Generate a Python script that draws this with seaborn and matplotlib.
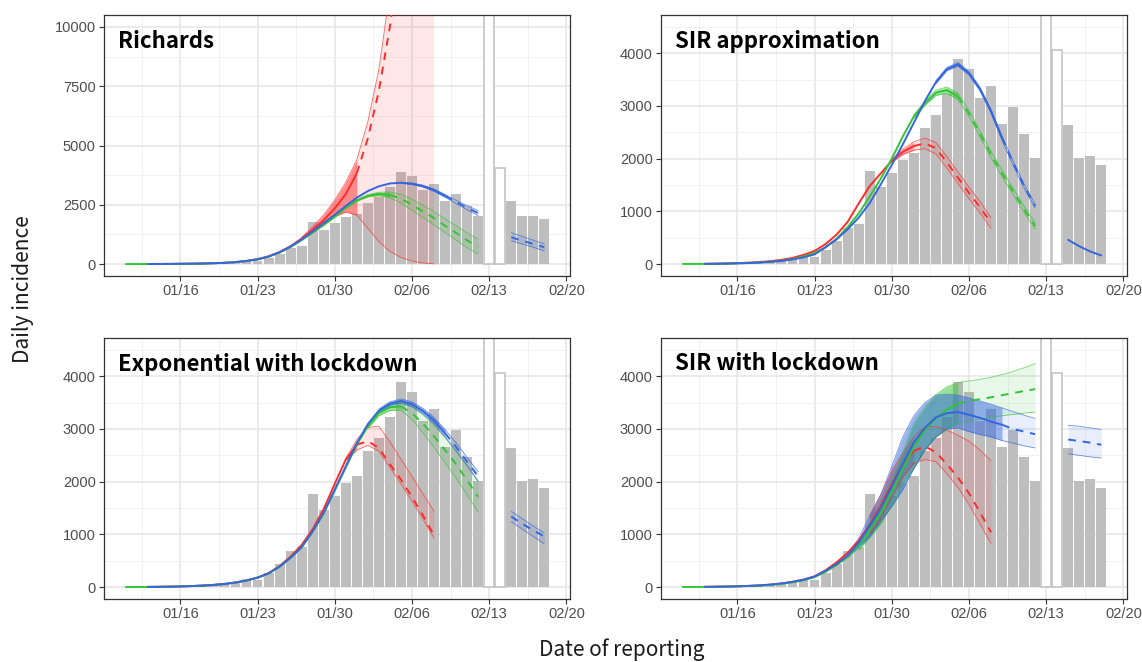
import numpy as np
import pandas as pd
import matplotlib
matplotlib.use("Agg")
import matplotlib.pyplot as plt
import seaborn as sns

# ------------------------------------------------------------------ data
ORIGIN = "2020-01-16"
bar_dates = pd.date_range("2020-01-17", "2020-02-18")
bar_values = [4, 17, 59, 77, 90, 149, 131, 259, 444, 688, 769,
              1771, 1459, 1737, 1981, 2099, 2589, 2825, 3235, 3884, 3694,
              3143, 3385, 2652, 2973, 2467, 2015, 14108, 4057,
              2641, 2009, 2048, 1886]
outline_dates = ["2020-02-13", "2020-02-14"]
tick_dates = ["2020-01-16", "2020-01-23", "2020-01-30", "2020-02-06",
              "2020-02-13", "2020-02-20"]
panel_titles = ["Richards", "SIR approximation",
                "Exponential with lockdown", "SIR with lockdown"]

red_start, green_start, blue_start, post_start = "2020-01-13", "2020-01-11", "2020-01-13", "2020-02-15"
red_fit_end, blue_fit_end = "2020-02-01", "2020-02-09"
green_fit_end = ["2020-02-04", "2020-02-05", "2020-02-05", "2020-02-05"]

# --- Richards
rich_r_mid = [5, 7, 10, 14, 19, 27, 38, 55, 85, 135, 210, 330, 510, 760, 1080, 1450, 1850, 2350,
              2950, 3830, 5300, 7300, 10000, 13500, 18000, 24000, 32000]
rich_r_rib = "2020-01-27"
rich_r_lo = [1030, 1330, 1650, 2000, 2200, 2070, 1500, 950, 540, 280, 130, 50, 10]
rich_r_hi = [1130, 1580, 2080, 2700, 3450, 4400, 6000, 8200, 11500, 16000, 22000, 30000, 40000]
rich_g_mid = [3, 4, 5, 7, 10, 14, 19, 27, 38, 55, 85, 132, 200, 315, 490, 720, 1010, 1330, 1650,
              1990, 2370, 2680, 2880, 2960, 2920, 2760, 2500, 2220, 1940, 1620, 1320, 1000, 740]
rich_g_rib = "2020-01-31"
rich_g_lo = [2350, 2650, 2835, 2890, 2800, 2570, 2270, 1960, 1660, 1330, 1020, 690, 420]
rich_g_hi = [2390, 2710, 2925, 3030, 3040, 2950, 2730, 2480, 2220, 1910, 1620, 1310, 1060]
rich_b_mid = [5, 7, 10, 14, 19, 27, 38, 55, 85, 132, 200, 320, 500, 740, 1040, 1380, 1730, 2080,
              2450, 2800, 3080, 3280, 3400, 3430, 3390, 3290, 3120, 2880, 2620, 2380, 2150]
rich_b_rib = "2020-02-05"
rich_b_lo = [3410, 3360, 3250, 3070, 2820, 2550, 2290, 2040]
rich_b_hi = [3450, 3420, 3330, 3170, 2940, 2690, 2470, 2260]
rich_post_mid = [1130, 990, 850, 710]
rich_post_lo = [980, 850, 710, 560]
rich_post_hi = [1330, 1170, 1010, 860]

# --- SIR approximation
sira_r_mid = [6, 9, 13, 19, 28, 40, 57, 82, 118, 175, 250, 380, 560, 800, 1150, 1480, 1720, 1960,
              2130, 2240, 2290, 2200, 1930, 1640, 1350, 1080, 780]
sira_r_rib = "2020-01-30"
sira_r_lo = [1930, 2080, 2160, 2190, 2090, 1820, 1530, 1240, 970, 680]
sira_r_hi = [1990, 2180, 2320, 2390, 2310, 2040, 1750, 1460, 1190, 880]
sira_g_mid = [3, 4, 5, 7, 10, 15, 22, 32, 46, 66, 95, 145, 210, 320, 480, 700, 960, 1280, 1620,
              2000, 2420, 2800, 3050, 3250, 3300, 3180, 2860, 2470, 2080, 1720, 1380, 1040, 720]
sira_g_rib = "2020-02-01"
sira_g_lo = [2770, 3010, 3200, 3240, 3120, 2800, 2410, 2020, 1660, 1320, 980, 660]
sira_g_hi = [2830, 3090, 3300, 3360, 3240, 2920, 2530, 2140, 1780, 1440, 1100, 780]
sira_b_mid = [5, 7, 10, 15, 21, 30, 43, 61, 88, 128, 185, 320, 470, 660, 880, 1160, 1510, 1880,
              2270, 2680, 3090, 3450, 3700, 3790, 3620, 3320, 2900, 2390, 1920, 1480, 1100]
sira_b_rib = "2020-02-03"
sira_b_lo = [3420, 3670, 3755, 3585, 3285, 2865, 2350, 1880, 1440, 1060]
sira_b_hi = [3480, 3730, 3825, 3655, 3355, 2935, 2430, 1960, 1520, 1140]
sira_post_mid = [460, 340, 240, 165]

# --- Exponential with lockdown
expl_r_mid = [4, 6, 9, 13, 20, 29, 42, 60, 88, 127, 182, 265, 400, 580, 800, 1100, 1480, 1960,
              2420, 2700, 2770, 2640, 2330, 2040, 1710, 1360, 980]
expl_r_rib = "2020-01-31"
expl_r_lo = [2400, 2600, 2690, 2580, 2270, 1960, 1630, 1290, 930]
expl_r_hi = [2440, 2800, 3030, 3050, 2760, 2430, 2100, 1770, 1440]
expl_g_mid = [2, 3, 4, 6, 9, 13, 20, 29, 42, 60, 88, 125, 178, 258, 385, 555, 755, 1050, 1400,
              1830, 2270, 2700, 3050, 3300, 3410, 3430, 3300, 3100, 2860, 2600, 2330, 2030, 1710]
expl_g_rib = "2020-02-02"
expl_g_lo = [3010, 3250, 3350, 3360, 3180, 2930, 2650, 2360, 2070, 1750, 1420]
expl_g_hi = [3090, 3350, 3470, 3500, 3420, 3270, 3070, 2840, 2590, 2310, 2000]
expl_b_mid = [4, 6, 9, 13, 20, 29, 42, 60, 88, 125, 180, 260, 390, 560, 760, 1060, 1410, 1850,
              2290, 2730, 3090, 3350, 3480, 3530, 3470, 3340, 3160, 2920, 2660, 2380, 2100]
expl_b_rib = "2020-02-03"
expl_b_lo = [3320, 3445, 3490, 3425, 3290, 3100, 2850, 2580, 2300, 2010]
expl_b_hi = [3380, 3515, 3570, 3515, 3390, 3220, 2990, 2740, 2460, 2190]
expl_post_mid = [1340, 1200, 1080, 960]
expl_post_lo = [1240, 1100, 960, 820]
expl_post_hi = [1440, 1300, 1160, 1030]

# --- SIR with lockdown
sirl_r_mid = [5, 8, 11, 16, 23, 33, 48, 70, 100, 142, 205, 320, 470, 650, 880, 1180, 1540, 1950,
              2330, 2580, 2670, 2560, 2330, 2080, 1780, 1420, 1040]
sirl_r_rib = "2020-01-28"
sirl_r_lo = [1000, 1300, 1700, 2080, 2350, 2420, 2380, 2150, 1890, 1570, 1200, 830]
sirl_r_hi = [1350, 1750, 2200, 2550, 2850, 3040, 3050, 2980, 2880, 2770, 2600, 2400]
sirl_g_mid = [3, 4, 5, 7, 10, 15, 21, 30, 43, 62, 90, 130, 190, 290, 420, 570, 790, 1080, 1400,
              1800, 2250, 2650, 2980, 3200, 3370, 3480, 3530, 3565, 3600, 3640, 3680, 3720, 3755]
sirl_g_rib = "2020-01-27"
sirl_g_lo = [700, 940, 1200, 1550, 1950, 2250, 2600, 2850, 3000, 3100, 3150, 3190, 3220, 3250,
             3275, 3300, 3320]
sirl_g_hi = [880, 1220, 1600, 2050, 2550, 3100, 3400, 3650, 3800, 3880, 3910, 3940, 3980, 4030,
             4090, 4160, 4240]
sirl_b_mid = [5, 8, 11, 16, 23, 33, 48, 70, 100, 140, 200, 310, 440, 600, 840, 1160, 1500, 1910,
              2340, 2740, 3020, 3220, 3300, 3320, 3270, 3210, 3140, 3080, 3000, 2950, 2900]
sirl_b_rib = "2020-01-26"
sirl_b_lo = [560, 760, 960, 1250, 1530, 1850, 2250, 2600, 2850, 3000, 3020, 2950, 2895, 2850,
             2780, 2730, 2680, 2640]
sirl_b_hi = [640, 920, 1360, 1750, 2290, 2850, 3250, 3500, 3640, 3660, 3640, 3590, 3530, 3470,
             3400, 3330, 3260, 3200]
sirl_post_mid = [2800, 2770, 2740, 2700]
sirl_post_lo = [2530, 2500, 2470, 2450]
sirl_post_hi = [3070, 3050, 3020, 2990]

# ------------------------------------------------------------------ style
RED, GREEN, BLUE = "#FF2B2B", "#33C433", "#3366E0"
BAR_GREY = "#BEBEBE"
sns.set_theme(style="white")
plt.rcParams["font.family"] = ["Liberation Sans", "DejaVu Sans"]

W, H = 1142, 662
fig = plt.figure(figsize=(W / 100, H / 100), dpi=100)


def tnum(d):
    return (pd.Timestamp(d) - pd.Timestamp(ORIGIN)).days


def axes_px(x0, x1, ytop, ybot):
    return fig.add_axes([x0 / W, 1 - ybot / H, (x1 - x0) / W, (ybot - ytop) / H])


def ribbon(ax, color, start, lo, hi, split, fit_alpha=0.45):
    t = np.arange(len(lo)) + tnum(start)
    lo, hi = np.asarray(lo, float), np.asarray(hi, float)
    s = tnum(split) if split is not None else t[0]
    fit, fc = t <= s, t >= s
    if fit.sum() > 1:
        ax.fill_between(t[fit], lo[fit], hi[fit], color=color, alpha=fit_alpha, lw=0, zorder=3)
    if fc.sum() > 1:
        ax.fill_between(t[fc], lo[fc], hi[fc], color=color, alpha=0.11, lw=0, zorder=3)
    ax.plot(t, lo, color=color, lw=0.6, alpha=0.7, zorder=4)
    ax.plot(t, hi, color=color, lw=0.6, alpha=0.7, zorder=4)


def centre(ax, color, start, mid, split, dashed_all=False, solid_all=False):
    t = np.arange(len(mid)) + tnum(start)
    mid = np.asarray(mid, float)
    if solid_all:
        ax.plot(t, mid, color=color, lw=1.4, zorder=6)
        return
    if dashed_all:
        ax.plot(t, mid, color=color, lw=1.4, ls=(0, (4, 3.5)), zorder=6)
        return
    s = tnum(split)
    ax.plot(t[t <= s], mid[t <= s], color=color, lw=1.4, zorder=6, solid_capstyle="butt")
    ax.plot(t[t >= s], mid[t >= s], color=color, lw=1.4, ls=(0, (4, 3.5)), zorder=6)


panels = [
    dict(pos=(104, 570, 15, 276), ylim=(-500, 10500), major=[0, 2500, 5000, 7500, 10000],
         minor=[1250, 3750, 6250, 8750],
         r=(rich_r_mid, rich_r_rib, rich_r_lo, rich_r_hi),
         g=(rich_g_mid, rich_g_rib, rich_g_lo, rich_g_hi),
         b=(rich_b_mid, rich_b_rib, rich_b_lo, rich_b_hi),
         post=(rich_post_mid, rich_post_lo, rich_post_hi), fitalpha=0.55),
    dict(pos=(661, 1127, 15, 276), ylim=(-225, 4725), major=[0, 1000, 2000, 3000, 4000],
         minor=[500, 1500, 2500, 3500, 4500],
         r=(sira_r_mid, sira_r_rib, sira_r_lo, sira_r_hi),
         g=(sira_g_mid, sira_g_rib, sira_g_lo, sira_g_hi),
         b=(sira_b_mid, sira_b_rib, sira_b_lo, sira_b_hi),
         post=(sira_post_mid, None, None), fitalpha=0.45),
    dict(pos=(104, 570, 338, 599), ylim=(-225, 4725), major=[0, 1000, 2000, 3000, 4000],
         minor=[500, 1500, 2500, 3500, 4500],
         r=(expl_r_mid, expl_r_rib, expl_r_lo, expl_r_hi),
         g=(expl_g_mid, expl_g_rib, expl_g_lo, expl_g_hi),
         b=(expl_b_mid, expl_b_rib, expl_b_lo, expl_b_hi),
         post=(expl_post_mid, expl_post_lo, expl_post_hi), fitalpha=0.45),
    dict(pos=(661, 1127, 338, 599), ylim=(-225, 4725), major=[0, 1000, 2000, 3000, 4000],
         minor=[500, 1500, 2500, 3500, 4500],
         r=(sirl_r_mid, sirl_r_rib, sirl_r_lo, sirl_r_hi),
         g=(sirl_g_mid, sirl_g_rib, sirl_g_lo, sirl_g_hi),
         b=(sirl_b_mid, sirl_b_rib, sirl_b_lo, sirl_b_hi),
         post=(sirl_post_mid, sirl_post_lo, sirl_post_hi), fitalpha=0.5),
]

bar_df = pd.DataFrame({"date": bar_dates, "value": bar_values})
bar_df["t"] = (bar_df["date"] - pd.Timestamp(ORIGIN)).dt.days
is_outline = bar_df["date"].isin(pd.to_datetime(outline_dates))
solid_bars = bar_df[~is_outline]
outline_bars = bar_df[is_outline]

xticks = [tnum(d) for d in tick_dates]
xlabels = [pd.Timestamp(d).strftime("%m/%d") for d in tick_dates]

for i, p in enumerate(panels):
    ax = axes_px(*p["pos"])
    sns.barplot(data=solid_bars, x="t", y="value", native_scale=True, color=BAR_GREY,
                saturation=1, width=0.9, errorbar=None, linewidth=0, ax=ax, zorder=2)
    sns.barplot(data=outline_bars, x="t", y="value", native_scale=True, color="white",
                saturation=1, width=0.9, errorbar=None, edgecolor="#C4C4C4", linewidth=1.2,
                ax=ax, zorder=2)

    # ribbons
    for col, key, st, sp in [(RED, "r", red_start, red_fit_end),
                             (GREEN, "g", green_start, green_fit_end[i]),
                             (BLUE, "b", blue_start, blue_fit_end)]:
        mid, rs, lo, hi = p[key]
        ribbon(ax, col, rs, lo, hi, sp, fit_alpha=p["fitalpha"])
    pm, pl, ph = p["post"]
    if pl is not None:
        ribbon(ax, BLUE, post_start, pl, ph, None)
    # centre lines
    for col, key, st, sp in [(RED, "r", red_start, red_fit_end),
                             (GREEN, "g", green_start, green_fit_end[i]),
                             (BLUE, "b", blue_start, blue_fit_end)]:
        mid, rs, lo, hi = p[key]
        centre(ax, col, st, mid, sp)
    centre(ax, BLUE, post_start, pm, None, dashed_all=pl is not None, solid_all=pl is None)

    ax.set_xlim(-6.92, 35.33)
    ax.set_ylim(*p["ylim"])
    ax.set_xticks(xticks)
    ax.set_xticklabels(xlabels)
    ax.set_xticks([x - 3.5 for x in xticks], minor=True)
    ax.set_yticks(p["major"])
    ax.set_yticklabels([str(v) for v in p["major"]])
    ax.set_yticks(p["minor"], minor=True)
    ax.set_axisbelow(True)
    ax.grid(True, which="major", color="#E6E6E6", lw=1.1, zorder=0)
    ax.grid(True, which="minor", color="#F0F0F0", lw=0.6, zorder=0)
    ax.set_xlabel("")
    ax.set_ylabel("")
    for sp_ in ax.spines.values():
        sp_.set_visible(True)
        sp_.set_color("#333333")
        sp_.set_linewidth(0.9)
    ax.tick_params(which="major", direction="out", length=3.5, width=0.8, color="#333333",
                   labelsize=10.5, labelcolor="#4D4D4D", pad=2.5,
                   bottom=True, left=True)
    ax.tick_params(which="minor", length=0)
    ax.annotate(panel_titles[i], xy=(0, 1), xycoords="axes fraction",
                xytext=(14, -26), textcoords="offset pixels", ha="left", va="center",
                fontsize=16, fontweight="bold", color="black",
                family=["Noto Sans CJK JP", "DejaVu Sans"], zorder=10)

fig.text(23 / W, 1 - 289 / H, "Daily incidence", rotation=90, ha="center", va="center",
         fontsize=15, color="#1A1A1A", family=["Noto Sans CJK JP", "DejaVu Sans"])
fig.text(622 / W, 6 / H, "Date of reporting", ha="center", va="baseline",
         fontsize=15, color="#1A1A1A", family=["Noto Sans CJK JP", "DejaVu Sans"])

fig.savefig("out.png", dpi=100)
